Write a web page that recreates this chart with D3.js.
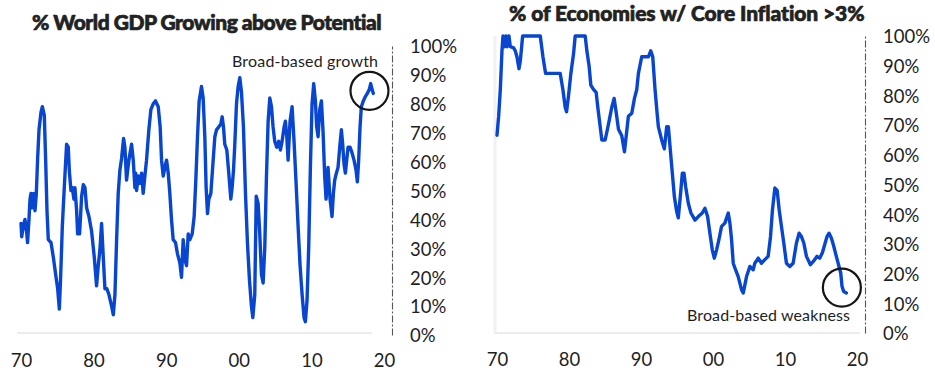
<!DOCTYPE html>
<html>
<head>
<meta charset="utf-8">
<script src="https://cdn.jsdelivr.net/npm/d3@7/dist/d3.min.js"></script>
<style>
  body { margin: 0; background: #fff; }
  svg { display: block; }
  text { font-family: Lato, "Open Sans", "DejaVu Sans", sans-serif; }
</style>
</head>
<body>
<svg id="chart" width="935" height="374"></svg>
<script>
// ---- data -------------------------------------------------------------
const decadeTicks  = [1970, 1980, 1990, 2000, 2010, 2020];
const decadeLabels = ["70", "80", "90", "00", "10", "20"];
const pctTicks     = [0, 10, 20, 30, 40, 50, 60, 70, 80, 90, 100];

const gdpTitle  = "% World GDP Growing above Potential";
const inflTitle = "% of Economies w/ Core Inflation >3%";
const gdpNote   = "Broad-based growth";
const inflNote  = "Broad-based weakness";

// share of world GDP growing above potential, % [year, value]
const gdpAbovePotential = [
  [1970.00,38.6],[1970.10,34],[1970.30,37.5],[1970.55,40],[1970.80,35],[1970.90,32],[1971.10,40],[1971.24,47],
  [1971.38,49],[1971.56,44],[1971.74,49],[1971.93,43],[1972.11,49],[1972.29,61],[1972.48,71],[1972.75,77],
  [1972.94,79],[1973.21,76],[1973.39,61],[1973.58,43],[1973.76,33],[1974.13,32],[1974.45,27],[1974.77,21],
  [1975.05,16],[1975.28,9],[1975.46,20],[1975.69,37.5],[1975.96,51],[1976.28,66],[1976.51,65],[1976.65,57],
  [1976.88,50],[1977.06,51],[1977.29,47],[1977.43,51],[1977.66,43],[1977.80,35],[1978.07,35],[1978.35,48],
  [1978.58,52],[1978.81,51],[1979.04,44],[1979.36,41],[1979.72,36],[1980.09,27],[1980.41,17],[1980.64,24],
  [1980.87,29.5],[1981.10,38.6],[1981.33,27],[1981.56,16],[1981.83,16],[1982.11,14],[1982.48,10],[1982.71,7],
  [1982.94,14],[1983.17,33],[1983.39,49],[1983.62,57],[1983.85,61],[1984.13,68],[1984.31,65],[1984.54,53.6],
  [1984.86,60.5],[1985.23,66],[1985.46,60.5],[1985.69,51],[1985.80,56],[1985.92,50],[1986.15,55],[1986.38,52.5],
  [1986.61,56],[1986.83,49],[1987.06,55],[1987.29,60.5],[1987.61,71],[1987.89,78],[1988.21,80],[1988.53,81],
  [1988.90,79],[1989.17,72],[1989.36,60.5],[1989.59,55],[1989.82,58],[1990.05,60.5],[1990.28,56],[1990.50,49],
  [1990.73,40],[1990.96,33],[1991.28,32],[1991.56,28],[1991.88,25],[1992.11,20],[1992.34,33],[1992.57,26],
  [1992.80,24],[1993.03,35],[1993.26,33],[1993.58,35],[1993.85,41],[1994.08,53.6],[1994.31,68.6],[1994.54,81],
  [1994.86,86],[1995.09,82],[1995.32,68.6],[1995.50,51],[1995.69,42],[1995.87,47],[1996.15,49],[1996.47,60.5],
  [1996.70,68.6],[1996.93,71],[1997.25,72],[1997.52,73],[1997.71,75.5],[1997.89,72],[1998.07,66],[1998.35,64],
  [1998.62,56],[1998.90,47],[1999.08,51],[1999.27,57],[1999.45,66],[1999.68,80],[1999.91,86],[2000.14,89],
  [2000.37,84],[2000.64,72],[2000.92,49],[2001.19,32],[2001.47,19],[2001.74,10],[2001.93,6],[2002.20,14],
  [2002.40,48],[2002.66,45.5],[2002.89,35],[2003.12,21],[2003.35,18],[2003.58,30.5],[2003.81,55],[2004.04,74],
  [2004.27,82],[2004.50,79],[2004.72,72],[2004.95,67],[2005.23,65],[2005.50,67],[2005.73,64],[2005.96,67],
  [2006.24,72],[2006.42,74],[2006.61,68.6],[2006.79,60.5],[2007.06,74],[2007.34,79],[2007.61,67],[2007.89,52.5],
  [2008.17,37.5],[2008.44,24],[2008.72,14],[2008.99,6],[2009.17,4.6],[2009.40,12],[2009.63,30.5],[2009.86,58],
  [2010.09,80],[2010.32,87],[2010.55,81],[2010.73,72],[2010.92,68.6],[2011.15,78],[2011.38,81],[2011.61,70],
  [2011.83,55],[2012.02,47],[2012.29,58],[2012.57,47],[2012.84,41],[2013.03,49],[2013.21,53.6],[2013.44,56],
  [2013.67,58],[2013.94,66],[2014.13,71],[2014.31,66],[2014.50,59],[2014.68,56],[2014.86,60.5],[2015.05,65],
  [2015.32,65],[2015.60,63],[2015.87,60.5],[2016.15,57],[2016.33,53],[2016.51,60.5],[2016.70,72],[2016.88,79],
  [2017.16,81],[2017.43,82.5],[2017.71,83.6],[2017.98,85],[2018.17,87],[2018.35,85],[2018.53,83.6]
];

// share of economies with core inflation above 3%, % [year, value]
const coreInflationAbove3 = [
  [1970.00,66.6],[1970.23,73],[1970.46,82],[1970.69,95],[1970.83,100],[1971.02,96.4],[1971.25,100],[1971.39,96.4],
  [1971.66,100],[1971.85,96.4],[1972.31,96],[1972.54,95],[1972.77,93],[1973.05,89],[1973.23,91.5],[1973.37,95],
  [1973.56,100],[1976.01,100],[1976.38,93],[1976.75,87.4],[1978.78,87.4],[1979.15,82],[1979.47,76],[1979.66,74.5],
  [1979.94,80],[1980.26,87.4],[1980.63,94],[1980.86,100],[1982.25,100],[1982.48,95],[1982.80,89.7],[1983.03,83.5],
  [1983.40,82],[1983.77,81],[1984.00,76],[1984.33,69.5],[1984.56,65],[1985.02,65],[1985.34,68.6],[1985.62,72],
  [1985.94,76],[1986.27,79],[1986.54,74.5],[1986.87,68.6],[1987.33,66.4],[1987.70,61],[1988.25,73],[1988.72,74],
  [1989.09,79],[1989.41,82],[1989.64,87.4],[1990.10,93],[1991.03,93],[1991.35,95],[1991.63,93],[1991.95,82],
  [1992.20,75],[1992.41,69.5],[1992.87,65],[1993.24,62],[1993.57,69.5],[1993.80,69.5],[1994.03,62.8],[1994.35,53.8],
  [1994.63,46],[1994.95,41],[1995.18,38.8],[1995.46,46],[1995.74,53.8],[1995.97,53.8],[1996.20,49.3],[1996.57,43.7],
  [1996.94,40.4],[1997.50,38],[1997.96,39.2],[1998.51,40.4],[1998.88,42],[1999.25,39.2],[1999.57,33.6],[1999.90,28],
  [2000.18,25.2],[2000.50,28],[2000.82,31.4],[2001.19,35.9],[2001.65,37],[2002.12,40.4],[2002.35,37],[2002.58,31.4],
  [2002.81,23.5],[2003.13,21.3],[2003.50,19],[2003.96,14.6],[2004.20,13.5],[2004.66,19],[2005.12,22.4],[2005.58,21.3],
  [2005.81,23.5],[2006.28,25.2],[2006.74,23.5],[2007.20,24.7],[2007.66,25.8],[2007.99,32.5],[2008.26,41.5],[2008.59,48.8],
  [2008.91,48],[2009.19,41.5],[2009.51,35.9],[2009.83,30.3],[2010.20,23.5],[2010.67,22.4],[2011.13,23.5],[2011.59,30.3],
  [2011.96,33.6],[2012.28,32.5],[2012.61,30.3],[2012.98,25.8],[2013.53,23],[2013.90,24],[2014.45,25.8],[2014.82,25.2],
  [2015.19,27],[2015.52,29.8],[2015.84,32.5],[2016.12,33.6],[2016.44,32],[2016.77,29.2],[2017.13,25.8],[2017.50,22.4],
  [2017.74,20.2],[2017.92,15.7],[2018.15,14],[2018.52,13.5]
];

// ---- layout -------------------------------------------------------------
const panels = [
  {
    title: gdpTitle, data: gdpAbovePotential, note: gdpNote,
    xRange: [21, 384], yRange: [335, 46], axisX: 392,
    baseY: 333, baseX: [17, 372], leftEdge: null,
    titleX: 32, titleY: 30, titleW: 350,
    xLabelY: 367,
    noteX: 232, noteY: 67, noteW: 146,
    ring: { year: 2018.0, value: 84.5, r: 19 }
  },
  {
    title: inflTitle, data: coreInflationAbove3, note: inflNote,
    xRange: [497, 857], yRange: [333, 36], axisX: 865,
    baseY: 333, baseX: [494, 860], leftEdge: 495,
    titleX: 509, titleY: 21, titleW: 356,
    xLabelY: 366,
    noteX: 687, noteY: 321, noteW: 163,
    ring: { year: 2017.9, value: 15.3, r: 19 }
  }
];

const lineColor = "#0846d2";
const inkColor  = "#1e1e1e";

const svg = d3.select("#chart");

function fitWidth(sel, target) {
  const n = sel.text().length;
  const w = sel.node().getComputedTextLength();
  sel.attr("letter-spacing", ((target - w) / (n - 1)).toFixed(3));
}

panels.forEach(p => {
  const g = svg.append("g");
  const x = d3.scaleLinear().domain([1970, 2020]).range(p.xRange);
  const y = d3.scaleLinear().domain([0, 100]).range(p.yRange);

  // faint frame lines
  g.append("line")
    .attr("x1", p.baseX[0]).attr("x2", p.baseX[1])
    .attr("y1", p.baseY).attr("y2", p.baseY)
    .attr("stroke", "#ececec").attr("stroke-width", 2);
  if (p.leftEdge !== null) {
    g.append("line")
      .attr("x1", p.leftEdge).attr("x2", p.leftEdge)
      .attr("y1", y(100)).attr("y2", p.baseY)
      .attr("stroke", "#f1f1f1").attr("stroke-width", 3);
  }

  // right-hand value axis
  const yAxis = g.append("g")
    .attr("transform", `translate(${p.axisX},0)`)
    .call(d3.axisRight(y).tickValues(pctTicks).tickSize(0).tickPadding(18)
      .tickFormat(d => d + "%"));
  yAxis.select(".domain")
    .attr("stroke", "#555").attr("stroke-width", 1.1)
    .attr("stroke-dasharray", "7,2,2,2");
  yAxis.selectAll("text")
    .attr("font-family", null).attr("font-size", 18.5)
    .attr("fill", inkColor).attr("dy", "0.37em");

  // decade axis
  const xAxis = g.append("g")
    .attr("transform", `translate(0,${p.baseY})`)
    .call(d3.axisBottom(x).tickValues(decadeTicks).tickSize(0)
      .tickFormat((d, i) => decadeLabels[i]));
  xAxis.select(".domain").remove();
  xAxis.selectAll("text")
    .attr("font-family", null).attr("font-size", 18.5)
    .attr("fill", inkColor).attr("dy", null)
    .attr("y", p.xLabelY - p.baseY);

  // series line
  const line = d3.line().x(d => x(d[0])).y(d => y(d[1]));
  g.append("path")
    .datum(p.data)
    .attr("d", line)
    .attr("fill", "none")
    .attr("stroke", lineColor)
    .attr("stroke-width", 3.4)
    .attr("stroke-linejoin", "round")
    .attr("stroke-linecap", "round");

  // highlight ring around the latest readings
  g.append("circle")
    .attr("cx", x(p.ring.year)).attr("cy", y(p.ring.value)).attr("r", p.ring.r)
    .attr("fill", "none").attr("stroke", "#151515").attr("stroke-width", 2.2);

  // note
  const note = g.append("text")
    .attr("x", p.noteX).attr("y", p.noteY)
    .attr("font-size", 16).attr("fill", inkColor)
    .text(p.note);
  fitWidth(note, p.noteW);

  // title (a thin outline thickens the heavy headline face)
  const title = g.append("text")
    .attr("x", p.titleX).attr("y", p.titleY)
    .attr("font-size", 21).attr("font-weight", 900).attr("fill", "#222")
    .attr("stroke", "#222").attr("stroke-width", 0.7)
    .attr("stroke-linejoin", "round")
    .text(p.title);
  fitWidth(title, p.titleW);
});
</script>
</body>
</html>
